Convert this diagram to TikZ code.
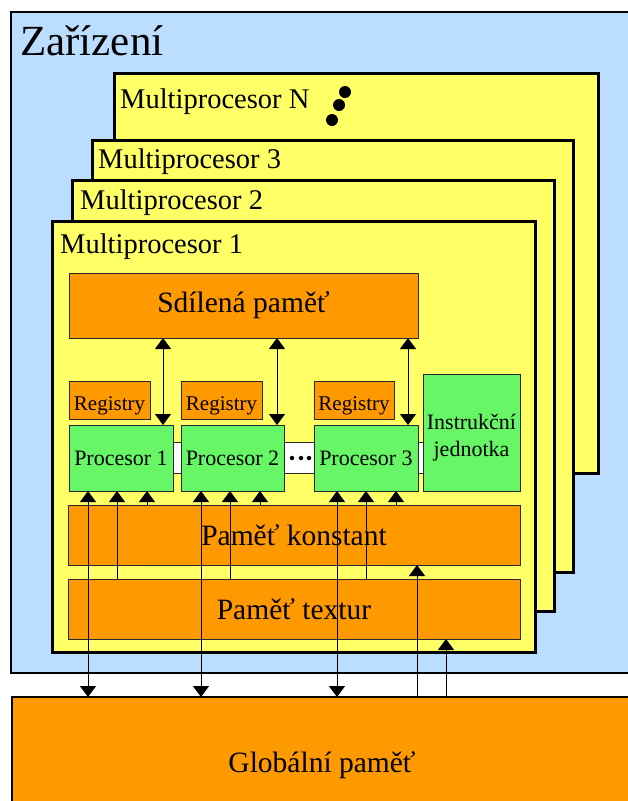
\documentclass[tikz,border=0pt]{standalone}
\usepackage{fontspec}
\setmainfont{Liberation Serif}
\usetikzlibrary{arrows.meta}
\definecolor{devblue}{RGB}{187,221,255}
\definecolor{mpyellow}{RGB}{255,255,102}
\definecolor{memorange}{RGB}{255,153,0}
\definecolor{procgreen}{RGB}{102,246,102}
\definecolor{thinline}{RGB}{40,40,40}
\tikzset{
  box/.style={rectangle, inner sep=0pt, outer sep=0pt, anchor=north west},
  devbox/.style={box, fill=devblue, draw=black, line width=2.5pt},
  mpbox/.style={box, fill=mpyellow, draw=black, line width=3pt},
  membox/.style={box, fill=memorange, draw=thinline, line width=1pt},
  procbox/.style={box, fill=procgreen, draw=thinline, line width=1pt},
  barbox/.style={box, fill=white, draw=thinline, line width=1pt},
  globbox/.style={box, fill=memorange, draw=black, line width=2.5pt},
  lbl/.style={inner sep=0pt, anchor=base west},
  tipA/.tip={Triangle[width=16pt,length=11pt]},
  arr/.style={line width=1pt, -tipA},
  dbl/.style={line width=1pt, tipA-tipA},
  dot/.style={circle, fill=black, inner sep=0pt, minimum size=12pt},
  smalldot/.style={circle, fill=black, inner sep=0pt, minimum size=4.5pt},
  bigf/.style={font=\fontsize{29.5}{31}\selectfont},
  midf/.style={font=\fontsize{28.5}{30}\selectfont},
  smf/.style={font=\fontsize{22}{27}\selectfont},
  regf/.style={font=\fontsize{21}{24}\selectfont, text height=20pt, text depth=0pt},
}
\begin{document}
\begin{tikzpicture}[x=1pt,y=-1pt]
\useasboundingbox (0,0) rectangle (628,801);
\clip (0,0) rectangle (628,801);
% device
\node[devbox, minimum width=629pt, minimum height=661pt] (dev) at (11,12) {};
\node[lbl, font=\fontsize{43}{45}\selectfont] (devl) at (20,55) {Zařízení};
% multiprocessors
\node[mpbox, minimum width=484pt, minimum height=400pt] (mpN) at (114,73) {};
\node[lbl, midf] (mpNl) at (120,108) {Multiprocesor N};
\node[dot] (d1) at (345,92) {};
\node[dot] (d2) at (339,105) {};
\node[dot] (d3) at (332,120) {};
\node[mpbox, minimum width=481pt, minimum height=432pt] (mp3) at (92,140) {};
\node[lbl, midf] (mp3l) at (98,168) {Multiprocesor 3};
\node[mpbox, minimum width=482pt, minimum height=431pt] (mp2) at (72,180) {};
\node[lbl, midf] (mp2l) at (80,209) {Multiprocesor 2};
\node[mpbox, minimum width=483pt, minimum height=431pt] (mp1) at (52,221) {};
\node[lbl, midf] (mp1l) at (60,253) {Multiprocesor 1};
% shared memory
\node[membox, minimum width=349pt, minimum height=65pt, bigf] (sm) at (69,273) {Sdílená paměť};
% registers
\node[membox, minimum width=81pt, minimum height=38pt, regf] (r1) at (69,381) {Registry};
\node[membox, minimum width=81pt, minimum height=38pt, regf] (r2) at (181,381) {Registry};
\node[membox, minimum width=80pt, minimum height=38pt, regf] (r3) at (314,381) {Registry};
% bar behind processors
\node[barbox, minimum width=250pt, minimum height=31pt] (bar) at (173,442) {};
% processors
\node[procbox, minimum width=104pt, minimum height=66pt, smf] (p1) at (69,425) {Procesor 1};
\node[procbox, minimum width=103pt, minimum height=66pt, smf] (p2) at (181,425) {Procesor 2};
\node[procbox, minimum width=104pt, minimum height=66pt, smf] (p3) at (314,425) {Procesor 3};
\node[procbox, minimum width=97pt, minimum height=117pt] (iu) at (423,374) {};
\node[smf, align=center, inner sep=0pt] (iul) at ([yshift=-5pt]iu.center) {Instrukční\\jednotka};
\node[smalldot] (e1) at (292,458) {};
\node[smalldot] (e2) at (301,458) {};
\node[smalldot] (e3) at (309,458) {};
% constant and texture memory
\node[membox, minimum width=452pt, minimum height=60pt, bigf] (km) at (68,505) {Paměť konstant};
\node[membox, minimum width=452pt, minimum height=60pt, bigf] (tm) at (68,579) {Paměť textur};
% global memory
\node[globbox, minimum width=640pt, minimum height=120pt] (gm) at (12,697) {};
\node[bigf, inner sep=0pt] (gml) at (322,765) {Globální paměť};
% shared memory <-> processors
\draw[dbl] ([xshift=94pt]p1.north west) -- ([xshift=94pt]p1.north west |- sm.south);
\draw[dbl] ([xshift=96pt]p2.north west) -- ([xshift=96pt]p2.north west |- sm.south);
\draw[dbl] ([xshift=94pt]p3.north west) -- ([xshift=94pt]p3.north west |- sm.south);
% global <-> processors
\draw[dbl] ([xshift=19pt]p1.south west) -- ([xshift=19pt]p1.south west |- gm.north);
\draw[dbl] ([xshift=20pt]p2.south west) -- ([xshift=20pt]p2.south west |- gm.north);
\draw[dbl] ([xshift=23pt]p3.south west) -- ([xshift=23pt]p3.south west |- gm.north);
% texture -> processors
\draw[arr] ([xshift=48pt]p1.south west |- tm.north) -- ([xshift=48pt]p1.south west);
\draw[arr] ([xshift=49pt]p2.south west |- tm.north) -- ([xshift=49pt]p2.south west);
\draw[arr] ([xshift=52pt]p3.south west |- tm.north) -- ([xshift=52pt]p3.south west);
% constant -> processors
\draw[arr] ([xshift=78pt]p1.south west |- km.north) -- ([xshift=78pt]p1.south west);
\draw[arr] ([xshift=79pt]p2.south west |- km.north) -- ([xshift=79pt]p2.south west);
\draw[arr] ([xshift=82pt]p3.south west |- km.north) -- ([xshift=82pt]p3.south west);
% global -> constant / texture
\draw[arr] ([xshift=349pt]km.south west |- gm.north) -- ([xshift=349pt]km.south west);
\draw[arr] ([xshift=378pt]tm.south west |- gm.north) -- ([xshift=378pt]tm.south west);
\end{tikzpicture}
\end{document}
